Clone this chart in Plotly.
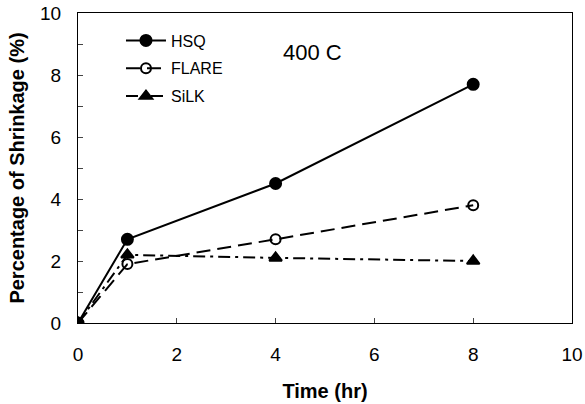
import plotly.graph_objects as go

time_hr = [0, 1, 4, 8]
hsq = [0, 2.7, 4.5, 7.7]
flare = [0, 1.9, 2.7, 3.8]
silk = [0, 2.2, 2.1, 2.0]

series = [
    ("HSQ", hsq, "solid", "circle", 11),
    ("FLARE", flare, "14px,7px", "circle-open", 10),
    ("SiLK", silk, "12px,5px,3px,5px", "triangle-up", 11),
]

fig = go.Figure()
for name, vals, dash, sym, msize in series:
    fig.add_trace(go.Scatter(
        x=time_hr, y=vals, name=name, mode="lines+markers", legendgroup=name,
        line=dict(color="black", width=2, dash=dash),
        marker=dict(symbol=sym, size=msize,
                    color="black", line=dict(color="black", width=2)),
    ))

font_family = "Liberation Sans, Arial, sans-serif"
fig.update_layout(
    width=585, height=404,
    margin=dict(l=78, r=13, t=13, b=81),
    paper_bgcolor="white", plot_bgcolor="white",
    font=dict(family=font_family, color="black", size=15),
    showlegend=True,
    legend=dict(x=0.087, y=0.966, xanchor="left", yanchor="top",
                bgcolor="rgba(0,0,0,0)", font=dict(size=16),
                itemwidth=40, tracegroupgap=4),
    xaxis=dict(range=[0, 10], dtick=2, tick0=0, ticks="inside", ticklen=5,
               showline=True, linecolor="black", linewidth=1, mirror=True,
               showgrid=False, zeroline=False, tickfont=dict(size=19),
               ticklabelstandoff=14, automargin=False,
               title=dict(text="<b>Time (hr)</b>", font=dict(size=20), standoff=20)),
    yaxis=dict(range=[0, 10], dtick=2, tick0=0, ticks="inside", ticklen=5,
               showline=True, linecolor="black", linewidth=1, mirror=True,
               showgrid=False, zeroline=False, tickfont=dict(size=19),
               ticklabelstandoff=12, automargin=False,
               minor=dict(dtick=1, ticks="inside", ticklen=5, showgrid=False),
               title=dict(text="<b>Percentage of Shrinkage (%)</b>", font=dict(size=20), standoff=10)),
    annotations=[dict(text="400 C", x=0.474, y=0.874, xref="paper", yref="paper",
                      xanchor="center", yanchor="middle", showarrow=False,
                      font=dict(size=22))],
)

fig.write_html("out.html")
